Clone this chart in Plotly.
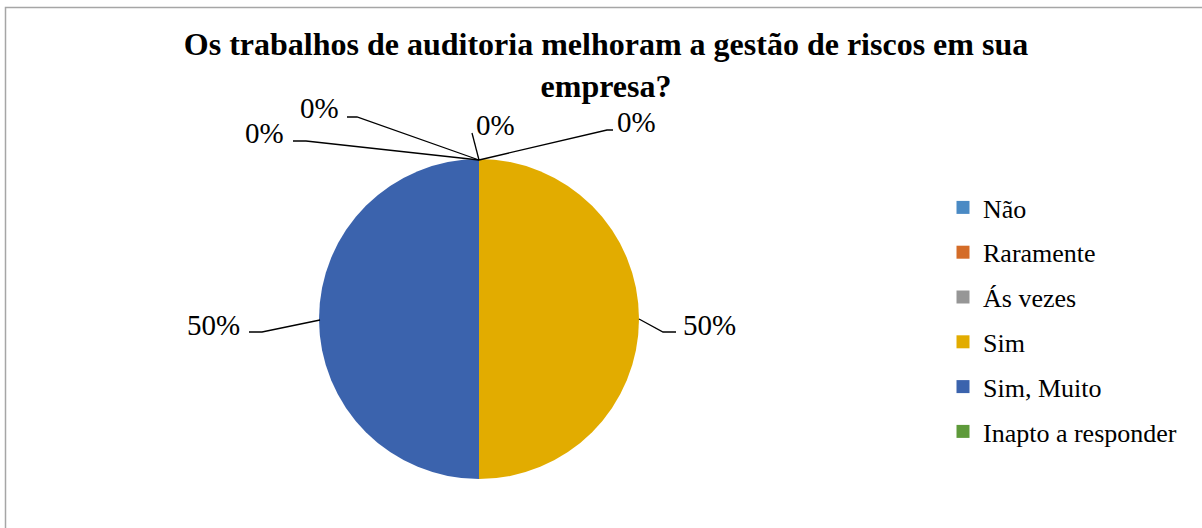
import plotly.graph_objects as go

W, H = 1202, 528

title_text = "Os trabalhos de auditoria melhoram a gestão de riscos em sua<br>empresa?"
categories = ["Não", "Raramente", "Ás vezes", "Sim", "Sim, Muito", "Inapto a responder"]
values = [0, 0, 0, 50, 50, 0]
colors = ["#4A8AC4", "#D46C28", "#969696", "#E2AC00", "#3B63AD", "#5E9A3A"]

SERIF = "Liberation Serif, Times New Roman, Times, serif"

total = sum(values)
pct_labels = [f"{v / total * 100:.0f}%" for v in values]

def px(x):
    return x / W

def py(y):
    return 1 - y / H

# pie geometry (pixels)
cx, cy, r = 479, 319, 160

fig = go.Figure()
fig.add_trace(go.Pie(
    labels=categories, values=values, sort=False, direction="clockwise",
    rotation=0, marker=dict(colors=colors, line=dict(width=0)),
    textinfo="none", hoverinfo="label+percent", showlegend=False,
    domain=dict(x=[px(cx - r), px(cx + r)], y=[py(cy + r), py(cy - r)]),
))

# legend entries
for i, (c, col) in enumerate(zip(categories, colors)):
    fig.add_trace(go.Scatter(
        x=[None], y=[None], mode="markers", name=c, legendgroup=f"g{i}",
        marker=dict(symbol="square", size=13, color=col),
    ))

# label layout: (text center x, y), leader polyline points (pixels)
label_layout = {
    "Não": ((495, 125), [(479, 160), (472, 133)]),
    "Raramente": ((636, 122), [(479, 160), (607, 130), (613, 130)]),
    "Ás vezes": ((319, 108), [(479, 160), (357, 117), (347, 117)]),
    "Sim": ((709, 325), [(639, 319), (663, 332), (676, 332)]),
    "Sim, Muito": ((213, 325), [(320, 320), (262, 332), (249, 332)]),
    "Inapto a responder": ((264, 133), [(479, 160), (306, 141), (293, 141)]),
}

shapes = [dict(type="rect", xref="paper", yref="paper",
               x0=px(5.5), x1=px(1215), y0=py(540), y1=py(7.5),
               line=dict(color="#A6A6A6", width=1.5), fillcolor="rgba(0,0,0,0)")]
annotations = []
for cat, lab in zip(categories, pct_labels):
    (tx, ty), pts = label_layout[cat]
    path = "M " + " L ".join(f"{px(x)},{py(y)}" for x, y in pts)
    shapes.append(dict(type="path", xref="paper", yref="paper", path=path,
                       line=dict(color="black", width=1.3)))
    annotations.append(dict(x=px(tx), y=py(ty), xref="paper", yref="paper",
                            text=lab, showarrow=False, xanchor="center", yanchor="middle",
                            font=dict(family=SERIF, size=29, color="black")))

fig.update_layout(
    width=W, height=H,
    margin=dict(l=0, r=0, t=0, b=0),
    font=dict(family=SERIF, color="black"),
    paper_bgcolor="white", plot_bgcolor="white",
    title=dict(text=f"<b>{title_text}</b>", x=px(606), xanchor="center",
               y=py(55), yanchor="top", yref="container",
               font=dict(family=SERIF, size=32, color="black")),
    xaxis=dict(visible=False), yaxis=dict(visible=False),
    legend=dict(x=px(943), xanchor="left", y=py(184), yanchor="top",
                font=dict(family=SERIF, size=26, color="black"),
                tracegroupgap=8, bgcolor="rgba(0,0,0,0)"),
    shapes=shapes, annotations=annotations,
)

fig.write_html("out.html")
